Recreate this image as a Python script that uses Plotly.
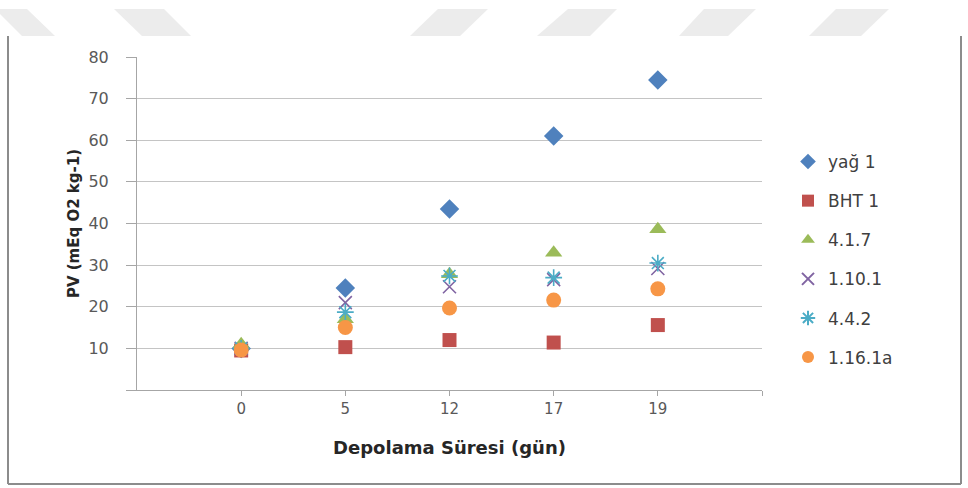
import plotly.graph_objects as go

# Storage time (days) and peroxide values (mEq O2 kg-1)
days = ["0", "5", "12", "17", "19"]
yag_1 = [10.0, 24.5, 43.5, 61.0, 74.5]
bht_1 = [9.5, 10.3, 12.0, 11.4, 15.6]
s_4_1_7 = [11.0, 17.0, 27.8, 33.0, 38.6]
s_1_10_1 = [10.0, 21.0, 24.8, 26.5, 29.2]
s_4_4_2 = [10.0, 18.7, 27.4, 27.0, 30.5]
s_1_16_1a = [9.6, 15.0, 19.7, 21.6, 24.3]

y_ticks = [0, 10, 20, 30, 40, 50, 60, 70, 80]

series = [
    ("yağ 1", yag_1, "diamond", "#4F81BD", 15),
    ("BHT 1", bht_1, "square", "#C0504D", 14),
    ("4.1.7", s_4_1_7, "triangle-up", "#9BBB59", 15),
    ("1.10.1", s_1_10_1, "x-thin-open", "#8064A2", 13),
    ("4.4.2", s_4_4_2, "asterisk-open", "#4BACC6", 14),
    ("1.16.1a", s_1_16_1a, "circle", "#F79646", 15),
]

# plot area in pixels
L, R, T, B = 137, 762, 57, 390
W, H = 968, 488


def px(x, y):
    """pixel position -> paper coordinates"""
    return (x - L) / (R - L), (B - y) / (B - T)


fig = go.Figure()
idx = list(range(len(days)))
for name, vals, sym, col, size in series:
    open_sym = sym.endswith("open")
    fig.add_trace(go.Scatter(
        x=idx, y=vals, name=name, mode="markers", legendgroup=name,
        marker=dict(symbol=sym, size=size, color=col,
                    line=dict(color=col, width=1.6 if open_sym else 0)),
    ))

shapes = []
# light grey slanted bands across the top
bands = [(-5, 27, 22, 55), (114, 164, 142, 191), (438, 488, 410, 460),
         (568, 617, 537, 590), (704, 756, 679, 728), (836, 889, 809, 861)]
for tl, tr, bl, br in bands:
    pts = [px(tl, 9), px(tr, 9), px(br, 36), px(bl, 36)]
    path = "M " + " L ".join(f"{a:.4f},{b:.4f}" for a, b in pts) + " Z"
    shapes.append(dict(type="path", xref="paper", yref="paper", path=path,
                       fillcolor="#ECECEC", line=dict(width=0), layer="below"))
# outer frame (left, bottom, right)
x0, y0 = px(8, 36)
x1, y1 = px(961, 484)
for xa, ya, xb, yb in [(x0, y0, x0, y1), (x0, y1, x1, y1), (x1, y1, x1, y0)]:
    shapes.append(dict(type="line", xref="paper", yref="paper",
                       x0=xa, y0=ya, x1=xb, y1=yb,
                       line=dict(color="#8C8C8C", width=2)))

lx, ly = px(788, 144)
fig.update_layout(
    width=W, height=H,
    margin=dict(l=L, r=W - R, t=T, b=H - B),
    paper_bgcolor="white", plot_bgcolor="white",
    font=dict(family="DejaVu Sans", color="#595959"),
    showlegend=True,
    legend=dict(x=lx, y=ly, xanchor="left", yanchor="top",
                font=dict(family="DejaVu Sans", size=17, color="#404040"),
                itemsizing="constant",
                tracegroupgap=14, bgcolor="rgba(0,0,0,0)"),
    shapes=shapes,
    xaxis=dict(
        range=[-1, 5], tickmode="array",
        tickvals=idx + [5], ticktext=days + [""],
        showgrid=False, zeroline=False,
        showline=True, linecolor="#A6A6A6", linewidth=1,
        ticks="outside", ticklen=5, tickcolor="#A6A6A6",
        tickfont=dict(size=15, color="#595959"),
        title=dict(text="<b>Depolama Süresi (gün)</b>", standoff=24,
                   font=dict(family="DejaVu Sans", size=18, color="#262626")),
    ),
    yaxis=dict(
        range=[0, 80], tickmode="array",
        tickvals=y_ticks, ticktext=[""] + [str(v) for v in y_ticks[1:]],
        showgrid=True, gridcolor="#C4C4C4", gridwidth=1.2,
        zeroline=False,
        showline=True, linecolor="#A6A6A6", linewidth=1,
        ticks="outside", ticklen=10, tickcolor="#A6A6A6",
        ticklabelstandoff=14,
        tickfont=dict(size=16, color="#595959"),
        title=dict(text="<b>PV (mEq O2 kg-1)</b>", standoff=5,
                   font=dict(family="DejaVu Sans", size=15, color="#262626")),
    ),
)

fig.write_html("out.html")
